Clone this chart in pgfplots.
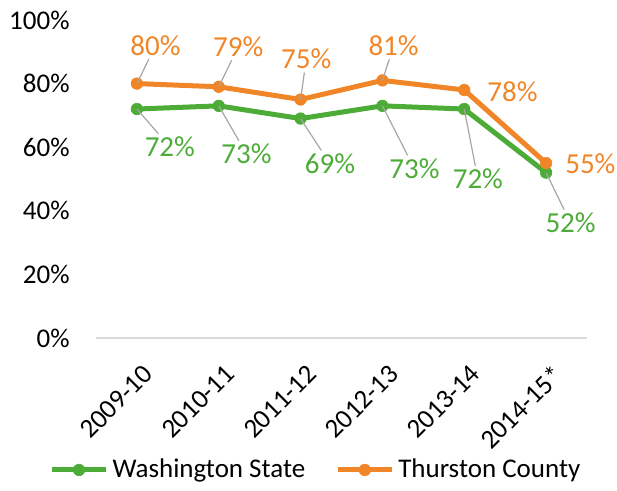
\documentclass[border=0pt]{standalone}
\usepackage{fontspec}
\setmainfont{Carlito}
\usepackage{pgfplots}
\usepackage{pgfplotstable}
\pgfplotsset{compat=1.18}
\definecolor{orangec}{RGB}{240,134,40}
\definecolor{greenc}{RGB}{77,172,56}
\definecolor{leadgray}{RGB}{166,166,166}
\definecolor{axgray}{RGB}{217,217,217}
\newcommand\lbl{\fontsize{14.5}{17}\selectfont}
\newcommand\tkf{\fontsize{13.5}{16}\selectfont}

\pgfplotstableread{
x y ang dist lead
0 80 64.7 21 1
1 79 64.6 22.1 1
2 75 82.9 20.2 1
3 81 72.1 17.9 1
4 78 -2.4 24 0
5 55 -1.3 22 0
}\orangetab

\pgfplotstableread{
x y ang dist lead
0 72 -49.9 24.9 1
1 73 -60.6 27.6 1
2 69 -57.2 26.8 1
3 73 -63.8 35.1 1
4 72 -79.5 35.6 1
5 52 -64.4 27.8 1
}\greentab

\begin{document}
\begin{tikzpicture}
\begin{axis}[
  at={(0,0)}, anchor=south west,
  scale only axis,
  width=245.5pt, height=159pt,
  xmin=-0.5, xmax=5.5, ymin=0, ymax=100,
  axis x line*=bottom, axis y line*=left,
  x axis line style={draw=axgray, line width=0.8pt},
  y axis line style={draw=none},
  major tick length=0pt,
  xtick={0,1,2,3,4,5},
  xticklabels={2009-10,2010-11,2011-12,2012-13,2013-14,2014-15*},
  ytick={0,20,40,60,80,100},
  yticklabel={\pgfmathprintnumber{\tick}\%},
  /pgf/number format/assume math mode=true,
  tick label style={font=\tkf, inner sep=0pt},
  yticklabel style={anchor=east, xshift=-13pt},
  xticklabel style={anchor=north east, xshift=2.5pt, yshift=-12.5pt, rotate=45},
  clip=false,
  legend style={at={(0.45,-0.415)}, anchor=center, legend columns=2, draw=none, fill=none, font=\tkf,
    /tikz/every even column/.append style={column sep=13pt}},
  legend cell align=left,
  legend image code/.code={\draw[#1, mark repeat=2, mark phase=2] plot coordinates {(0pt,0pt) (13.5pt,0pt) (27pt,0pt)};},
]
\addplot[greenc, line width=2.5pt, mark=*, mark size=2.9pt, mark options={solid, line width=0.3pt},
  nodes near coords={},
  visualization depends on={\thisrow{ang} \as \myang},
  visualization depends on={\thisrow{dist} \as \mydist},
  visualization depends on={\thisrow{lead} \as \mylead},
  every node near coord/.style={inner sep=0pt, minimum size=0pt, anchor=center,
    pin={[pin distance=\mydist pt, anchor=center, pin edge={draw=leadgray, line width=0.6pt, draw opacity=\mylead}, text=greenc, font=\lbl, inner sep=1.5pt]\myang:{\pgfmathprintnumber{\pgfplotspointmeta}\%}}}
] table[x=x,y=y] {\greentab};
\addlegendentry{Washington State}
\addplot[orangec, line width=2.5pt, mark=*, mark size=2.9pt, mark options={solid, line width=0.3pt},
  nodes near coords={},
  visualization depends on={\thisrow{ang} \as \myang},
  visualization depends on={\thisrow{dist} \as \mydist},
  visualization depends on={\thisrow{lead} \as \mylead},
  every node near coord/.style={inner sep=0pt, minimum size=0pt, anchor=center,
    pin={[pin distance=\mydist pt, anchor=center, pin edge={draw=leadgray, line width=0.6pt, draw opacity=\mylead}, text=orangec, font=\lbl, inner sep=1.5pt]\myang:{\pgfmathprintnumber{\pgfplotspointmeta}\%}}}
] table[x=x,y=y] {\orangetab};
\addlegendentry{Thurston County}
\end{axis}
\pgfresetboundingbox
\useasboundingbox (-48pt,-76.5pt) rectangle (260.5pt,169pt);
\end{tikzpicture}
\end{document}
